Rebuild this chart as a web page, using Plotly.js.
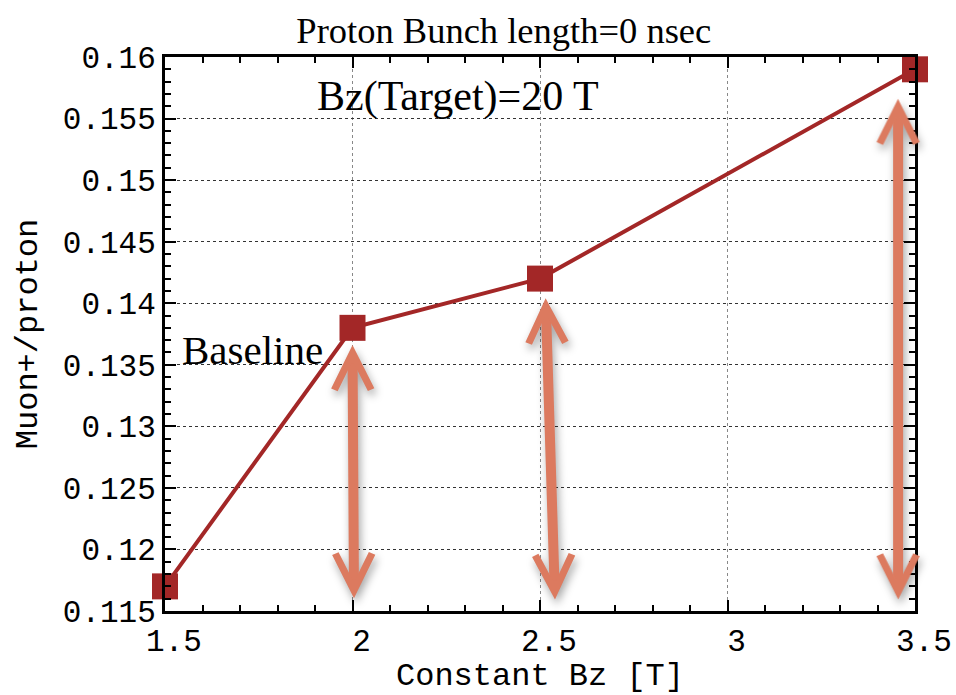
<!DOCTYPE html>
<html>
<head>
<meta charset="utf-8">
<script src="https://cdn.plot.ly/plotly-3.0.1.min.js"></script>
<style>
  html, body { margin: 0; padding: 0; background: #fff; }
  #chart { width: 956px; height: 695px; }
  .annotation-arrow-g { filter: drop-shadow(2px 5px 4px rgba(0,0,0,0.35)); }
</style>
</head>
<body>
<div id="chart"></div>
<script>
// ---- data ----
const bzField = [1.5, 2, 2.5, 3.5];                 // Constant Bz [T]
const muonPerProton = [0.117, 0.138, 0.142, 0.159];  // Muon+/proton

// double-headed highlight arrows (data coordinates)
const arrowTopX    = [2.0, 2.515, 3.455];
const arrowTopY    = [0.1366, 0.1404, 0.1566];
const arrowBottomX = [2.004, 2.54, 3.455];
const arrowBottomY = [0.1160, 0.1159, 0.1159];

const xTickVals = [1.5, 2, 2.5, 3, 3.5];
const xTickText = ['1.5', '2', '2.5', '3', '3.5'];
const yTickVals = [0.115, 0.12, 0.125, 0.13, 0.135, 0.14, 0.145, 0.15, 0.155, 0.16];
const yTickText = ['0.115', '0.12', '0.125', '0.13', '0.135', '0.14', '0.145', '0.15', '0.155', '0.16'];

const titleText = 'Proton Bunch length=0 nsec';
const xTitle = 'Constant Bz [T]';
const yTitle = 'Muon+/proton';
const labelTarget = 'Bz(Target)=20 T';
const labelBaseline = 'Baseline';

const lineColor = '#a32727';
const arrowColor = '#dc7a5f';
const mono = '"Liberation Mono", "Courier New", monospace';
const serif = '"Liberation Serif", "Times New Roman", serif';

const trace = {
  x: bzField,
  y: muonPerProton,
  type: 'scatter',
  mode: 'lines+markers',
  line: { color: lineColor, width: 4 },
  marker: { symbol: 'square', size: 26, color: lineColor },
  cliponaxis: false,
  hoverinfo: 'skip'
};

const annotations = [];
for (let i = 0; i < arrowTopX.length; i++) {
  annotations.push({
    x: arrowTopX[i], y: arrowTopY[i], xref: 'x', yref: 'y',
    ax: arrowBottomX[i], ay: arrowBottomY[i], axref: 'x', ayref: 'y',
    text: '', showarrow: true,
    arrowhead: 5, startarrowhead: 5, arrowside: 'end+start',
    arrowsize: 0.72, startarrowsize: 0.72, arrowwidth: 10,
    arrowcolor: arrowColor, standoff: 0, startstandoff: 0, borderpad: 0
  });
}
annotations.push({
  text: labelTarget, xref: 'paper', yref: 'paper',
  x: 0.39, y: 0.928, xanchor: 'center', yanchor: 'middle',
  showarrow: false, font: { family: serif, size: 42, color: '#000' }
});
annotations.push({
  text: labelBaseline, xref: 'paper', yref: 'paper',
  x: 0.117, y: 0.471, xanchor: 'center', yanchor: 'middle',
  showarrow: false, font: { family: serif, size: 41, color: '#000' }
});

const axisCommon = {
  showline: true, linecolor: '#000', linewidth: 3, mirror: 'allticks',
  ticks: 'inside', ticklen: 11, tickwidth: 2, tickcolor: '#000',
  showgrid: true, griddash: 'dot', gridwidth: 1,
  zeroline: false,
  tickfont: { family: mono, size: 31, color: '#000' }
};

const layout = {
  width: 956, height: 695,
  margin: { l: 165, r: 41, t: 57, b: 84 },
  paper_bgcolor: '#fff', plot_bgcolor: '#fff',
  showlegend: false,
  title: {
    text: titleText, x: 0.527, xanchor: 'center', y: 0.957, yanchor: 'middle',
    font: { family: serif, size: 36.5, color: '#000' }
  },
  xaxis: Object.assign({}, axisCommon, {
    range: [1.5, 3.5], tickvals: xTickVals, ticktext: xTickText,
    gridcolor: '#888',
    minor: { dtick: 0.1, ticks: 'inside', ticklen: 6, tickwidth: 2, tickcolor: '#000', showgrid: false },
    ticklabelshift: 9,
    title: { text: xTitle, font: { family: mono, size: 32, color: '#000' }, standoff: 28 }
  }),
  yaxis: Object.assign({}, axisCommon, {
    range: [0.115, 0.16], tickvals: yTickVals, ticktext: yTickText,
    gridcolor: '#333',
    minor: { dtick: 0.001, ticks: 'inside', ticklen: 6, tickwidth: 2, tickcolor: '#000', showgrid: false },
    title: { text: yTitle, font: { family: mono, size: 32, color: '#000' }, standoff: 16 }
  }),
  annotations: annotations
};

Plotly.newPlot('chart', [trace], layout, { staticPlot: true, displayModeBar: false });
</script>
</body>
</html>
